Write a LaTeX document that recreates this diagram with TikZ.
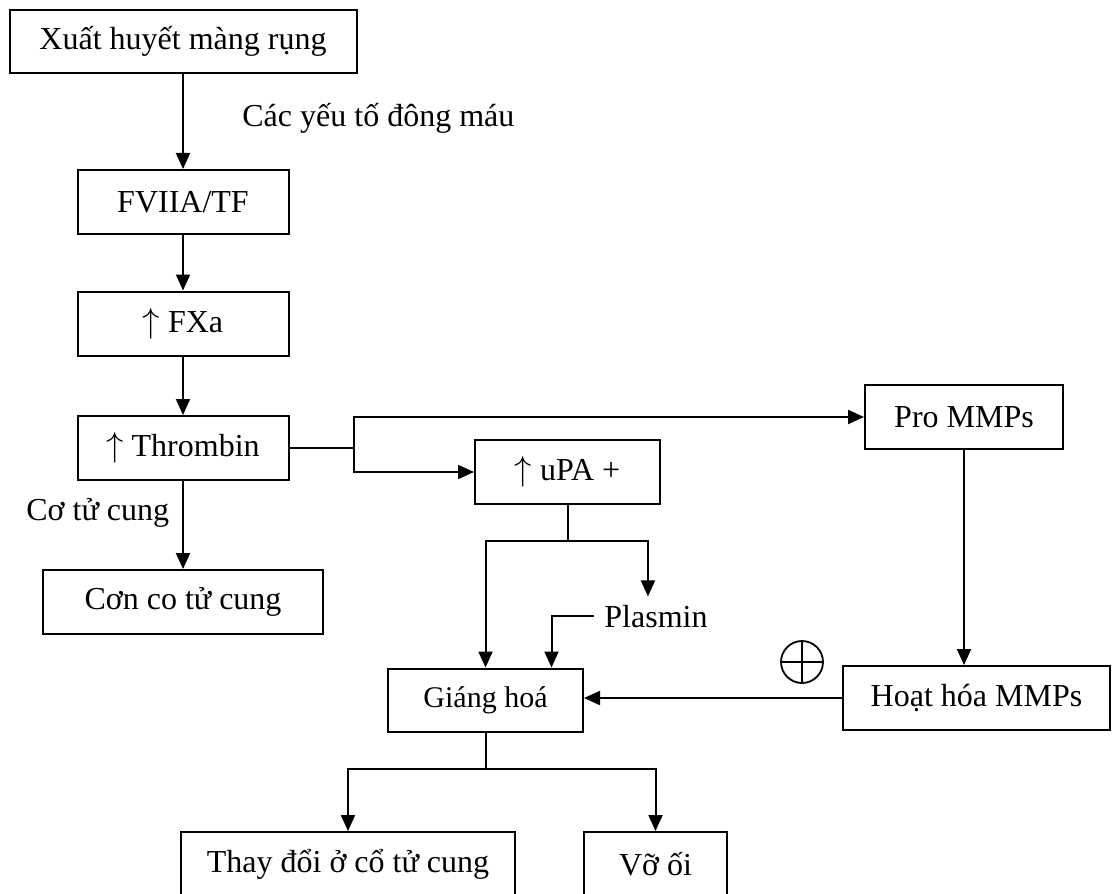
\documentclass[tikz,border=0pt]{standalone}
\usepackage{fontspec}
\setmainfont{Liberation Serif}
\usepackage{tikz}
\usetikzlibrary{arrows.meta,calc}

\begin{document}
\begin{tikzpicture}[x=0.5pt, y=-0.5pt,
    box/.style={draw, line width=1pt, minimum height=32pt, inner sep=2pt, font=\fontsize{16}{19}\selectfont},
    lbl/.style={font=\fontsize{16}{19}\selectfont, inner sep=0pt},
    arr/.style={-{Triangle[length=8pt,width=7pt]}, line width=1pt},
    con/.style={line width=1pt}]
    \useasboundingbox (0,0) rectangle (1112,893);

    % cột trái: chuỗi đông máu
    \node[box, minimum width=173.5pt, minimum height=31.5pt] (xuat) at (183,41.5) {Xuất huyết màng rụng};
    \node[box, minimum width=105.5pt] (fvii) at (183,202) {FVIIA/TF};
    \node[box, minimum width=105.5pt] (fxa) at (183,323.5) {$\uparrow$ FXa};
    \node[box, minimum width=105.5pt] (thro) at (183,448) {$\uparrow$ Thrombin};
    \node[box, minimum width=140pt] (conco) at (183,602) {Cơn co tử cung};
    \node[lbl, anchor=base west] (yeuto) at (242,127) {Các yếu tố đông máu};
    \node[lbl, anchor=base west] (cotc) at (26,520) {Cơ tử cung};

    \draw[arr] (xuat) -- (fvii);
    \draw[arr] (fvii) -- (fxa);
    \draw[arr] (fxa) -- (thro);
    \draw[arr] (thro) -- (conco);

    % nhánh phải: uPA và MMPs
    \node[box, minimum width=92.5pt] (upa) at (567.5,472) {$\uparrow$ uPA +};
    \node[box, minimum width=99pt] (pro) at (964,417) {Pro MMPs};
    \node[box, minimum width=133.5pt] (hoat) at (976.5,698) {Hoạt hóa MMPs};
    \node[box, minimum width=97.5pt, minimum height=31.5pt, font=\fontsize{15}{18}\selectfont] (giang) at (485.5,700) {Giáng hoá};
    \node[lbl, anchor=base west, inner xsep=5pt, inner ysep=4pt] (plasmin) at (594,627) {Plasmin};
    \node[draw, circle, line width=0.9pt, minimum size=21pt, inner sep=0pt,
          path picture={\draw[line width=0.9pt] (path picture bounding box.north) -- (path picture bounding box.south)
                        (path picture bounding box.west) -- (path picture bounding box.east);}] (plus) at (802,662) {};

    \draw[con] (thro.east) -- ++(64,0) coordinate (fork);
    \draw[arr] (fork) |- (pro.west);
    \draw[arr] (fork) |- (upa.west);
    \draw[arr] (pro.south) -- (pro.south |- hoat.north);
    \draw[arr] (hoat.west) -- (hoat.west -| giang.east);

    \draw[con] (upa.south) -- ++(0,36) coordinate (usplit);
    \draw[arr] (usplit) -| (giang.north);
    \draw[arr] (usplit) -| ($(plasmin.north)+(-8,0)$);
    \draw[arr] (plasmin.west) -| ($(giang.north)+(66,0)$);

    % hàng dưới
    \node[box, minimum width=167pt] (thay) at (348,864) {Thay đổi ở cổ tử cung};
    \node[box, minimum width=71.5pt] (vo) at (655.5,864) {Vỡ ối};

    \draw[con] (giang.south) -- ++(0,36) coordinate (bsplit);
    \draw[arr] (bsplit) -| (thay.north);
    \draw[arr] (bsplit) -| (vo.north);
\end{tikzpicture}
\end{document}
